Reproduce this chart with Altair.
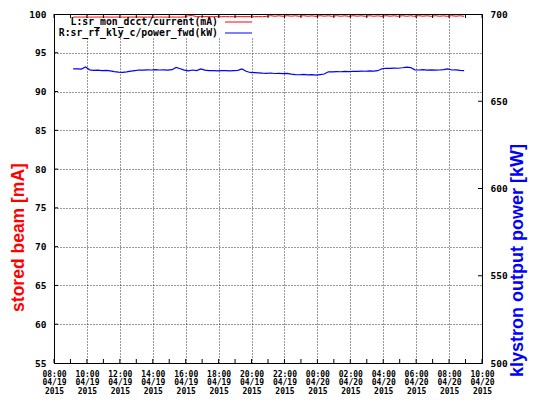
import altair as alt
import pandas as pd

# ---- data (15-minute samples starting 2015-04-19 09:10) ----
start_time = "2015-04-19 09:10"
current_mA = [
    99.60, 99.61, 99.60, 99.61, 99.60, 99.60, 99.61, 99.60, 99.61, 99.60,
    99.60, 99.61, 99.60, 99.60, 99.61, 99.60, 99.61, 99.60, 99.60, 99.61,
    99.60, 99.61, 99.60, 99.60, 99.61, 99.60, 99.60, 99.61, 99.78, 99.79,
    99.66, 99.65, 99.66, 99.65, 99.65, 99.66, 99.65, 99.66, 99.65, 99.65,
    99.66, 99.65, 99.66, 99.65, 99.65, 99.66, 99.65, 99.70, 99.78, 99.71,
    99.77, 99.70, 99.78, 99.72, 99.77, 99.70, 99.78, 99.71, 99.76, 99.70,
    99.78, 99.72, 99.77, 99.70, 99.78, 99.71, 99.77, 99.70, 99.78, 99.72,
    99.77, 99.70, 99.78, 99.71, 99.76, 99.70, 99.78, 99.72, 99.77, 99.70,
    99.78, 99.71, 99.77, 99.70, 99.78, 99.72, 99.77, 99.70, 99.78, 99.71,
    99.76, 99.70, 99.78, 99.72, 99.77, 99.70,
]
power_kW = [
    668.5, 668.6, 668.4, 669.6, 668.0, 667.7, 667.8, 667.5, 667.7, 667.4,
    667.0, 666.7, 666.5, 666.8, 667.3, 667.6, 667.9, 667.8, 668.0, 667.9,
    668.1, 667.9, 668.0, 667.8, 668.1, 669.4, 668.6, 667.8, 667.4, 667.9,
    667.6, 668.5, 667.8, 667.5, 667.6, 667.4, 667.6, 667.5, 667.4, 667.6,
    667.7, 668.5, 667.2, 666.5, 666.4, 666.3, 666.1, 666.0, 666.2, 665.9,
    666.0, 665.8, 666.0, 665.5, 665.3, 665.2, 665.4, 665.1, 665.2, 665.0,
    665.3, 665.6, 666.9, 666.8, 667.0, 666.9, 667.1, 667.0, 667.2, 667.1,
    667.3, 667.2, 667.4, 667.3, 667.5, 668.6, 668.9, 668.8, 669.0, 668.9,
    669.2, 669.6, 669.3, 668.0, 667.9, 668.1, 667.8, 668.0, 667.8, 667.9,
    668.1, 668.5, 667.9, 668.0, 667.7, 667.6,
]
left_ticks = [55, 60, 65, 70, 75, 80, 85, 90, 95, 100]
right_ticks = [500, 550, 600, 650, 700]
legend_labels = ["L:sr_mon_dcct/current(mA)", "R:sr_rf_kly_c/power_fwd(kW)"]
legend_colors = ["#ff0000", "#0000ff"]

times = pd.date_range(start_time, periods=len(power_kW), freq="15min")
df = pd.DataFrame({"time": times, "current": current_mA, "power": power_kW})
hours = pd.DataFrame({"time": pd.date_range("2015-04-19 08:00", "2015-04-20 10:00", freq="1h")})
lt = pd.DataFrame({"current": left_ticks[1:-1]})
rt = pd.DataFrame({"power": right_ticks[1:-1]})

W, H = 428, 349
MONO = "DejaVu Sans Mono"

xvals = [alt.DateTime(year=2015, month=4, date=19 + (8 + 2 * i) // 24, hours=(8 + 2 * i) % 24)
         for i in range(14)]
xscale = alt.Scale(domain=[alt.DateTime(year=2015, month=4, date=19, hours=8),
                           alt.DateTime(year=2015, month=4, date=20, hours=10)])
xaxis = alt.Axis(
    values=xvals, grid=True, gridDash=[1, 2], gridColor="#000000", gridOpacity=0.8,
    ticks=False, domain=False, title=None,
    labelExpr="[timeFormat(datum.value, '%H:%M'), timeFormat(datum.value, '%m/%d'), timeFormat(datum.value, '%Y')]",
    labelFont=MONO, labelFontWeight="bold", labelFontSize=8, labelLineHeight=8.7,
    labelBaseline="top", labelPadding=7, labelColor="#000000", labelOverlap=False,
    labelFlush=False,
)
X = alt.X("time:T", scale=xscale, axis=xaxis)

lscale = alt.Scale(domain=[55, 100], nice=False, zero=False)
laxis = alt.Axis(values=left_ticks, grid=True, gridDash=[1, 2], gridColor="#000000",
                 gridOpacity=0.8, ticks=False, domain=False, labelOverlap=False,
                 labelFont=MONO, labelFontWeight="bold", labelFontSize=9.5,
                 labelPadding=8, labelColor="#000000",
                 title="stored beam [mA]", titleColor="#ff0000",
                 titleFont="Liberation Sans", titleFontSize=17.5, titleFontWeight="bold",
                 titleAngle=270, titleX=-36, titleY=223, titleAlign="center",
                 titleBaseline="middle", orient="left")
yleft = alt.Y("current:Q", scale=lscale, axis=laxis)
red = alt.Chart(df).mark_line(color="#ff0000", strokeWidth=1).encode(x=X, y=yleft)
red_ticks = alt.Chart(lt).mark_rule(color="#000000").encode(
    y=yleft, x=alt.value(0), x2=alt.value(4))

rscale = alt.Scale(domain=[500, 700], nice=False, zero=False)
raxis = alt.Axis(values=right_ticks, grid=False, ticks=False, domain=False,
                 labelOverlap=False,
                 labelFont=MONO, labelFontWeight="bold", labelFontSize=9.5,
                 labelPadding=8, labelColor="#000000",
                 title="klystron output power [kW]", titleColor="#0000ff",
                 titleFont="Liberation Sans", titleFontSize=18, titleFontWeight="bold",
                 titleAngle=270, titleX=35, titleY=246, titleAlign="center",
                 titleBaseline="middle", orient="right")
yright = alt.Y("power:Q", scale=rscale, axis=raxis)
blue = alt.Chart(df).mark_line(color="#0000ff", strokeWidth=1.2).encode(x=X, y=yright)
blue_ticks = alt.Chart(rt).mark_rule(color="#000000").encode(
    y=yright, x=alt.value(W - 4), x2=alt.value(W))

hour_bottom = alt.Chart(hours).mark_rule(color="#000000").encode(
    x=X, y=alt.value(H - 4), y2=alt.value(H))
hour_top = alt.Chart(hours).mark_rule(color="#000000").encode(
    x=X, y=alt.value(0), y2=alt.value(4))

leg_df = pd.DataFrame({"label": legend_labels, "color": legend_colors, "row": [0, 1]})
legend_bg = alt.Chart(leg_df).mark_rect(color="white").encode(
    x=alt.value(8), x2=alt.value(206), y=alt.value(4), y2=alt.value(24))
leg1_text = alt.Chart().mark_text(align="right", baseline="middle", font=MONO, fontWeight="bold",
                                  fontSize=9.8, color="#000000").encode(
    x=alt.value(164), y=alt.value(8), text=alt.value(legend_labels[0]))
leg2_text = alt.Chart().mark_text(align="right", baseline="middle", font=MONO, fontWeight="bold",
                                  fontSize=9.8, color="#000000").encode(
    x=alt.value(164), y=alt.value(19), text=alt.value(legend_labels[1]))
leg1_line = alt.Chart().mark_rule(color=legend_colors[0]).encode(
    x=alt.value(171), x2=alt.value(198), y=alt.value(8))
leg2_line = alt.Chart().mark_rule(color=legend_colors[1]).encode(
    x=alt.value(171), x2=alt.value(198), y=alt.value(19))

left_layer = alt.layer(red, red_ticks)
right_layer = alt.layer(blue, blue_ticks)

chart = alt.layer(
    left_layer, right_layer, hour_bottom, hour_top,
    legend_bg, leg1_text, leg2_text, leg1_line, leg2_line,
).resolve_scale(y="independent").properties(
    width=W, height=H,
    autosize=alt.AutoSizeParams(type="none"),
    padding={"left": 46, "top": 6, "right": 47, "bottom": 36},
    background="white",
).configure_view(stroke="#000000", strokeWidth=1).configure_axis(labelOverlap=False)

chart.save("out.html", embed_options={"renderer": "svg", "actions": False})
